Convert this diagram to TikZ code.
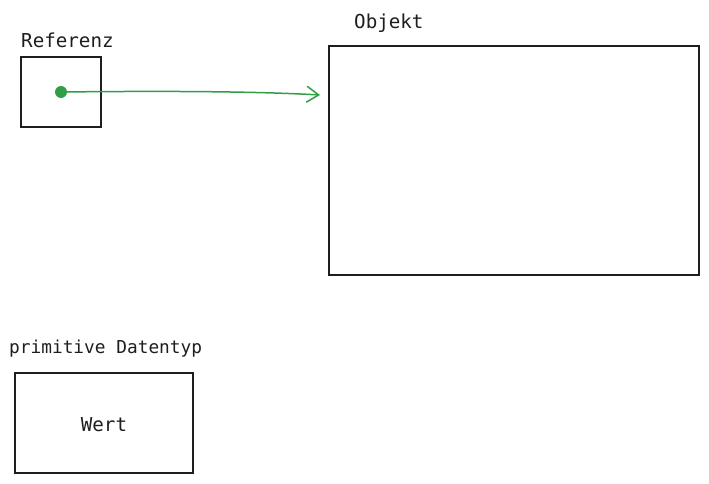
\documentclass[tikz,border=0pt]{standalone}
\usepackage{fontspec}
\setmonofont{DejaVu Sans Mono}
\usetikzlibrary{arrows.meta}
\definecolor{ink}{HTML}{1E1E1E}
\definecolor{pfeilgruen}{HTML}{2F9E44}
\begin{document}
\begin{tikzpicture}[x=1pt,y=-1pt,
    kasten/.style={draw=ink,line width=1.6pt,inner sep=0pt},
    beschriftung/.style={anchor=west,inner sep=0pt,text=ink,
        font=\ttfamily\fontsize{19.2}{22}\selectfont},
    zeiger/.style={draw=pfeilgruen,line width=1.5pt,
        -{Straight Barb[length=12pt,width=16pt,line width=1.5pt]}}
]
  \useasboundingbox (0,0) rectangle (709,484);
  % Referenz
  \node[kasten,minimum width=80pt,minimum height=70pt] (referenz) at (61,92) {};
  \node[beschriftung] (referenzText) at (21,40.5) {Referenz};
  \fill[pfeilgruen] (referenz.center) circle (6pt);
  % Objekt
  \node[kasten,minimum width=370pt,minimum height=229pt] (objekt) at (514,160.5) {};
  \node[beschriftung] (objektText) at (354,23.5) {Objekt};
  \coordinate (ziel) at (320,95);
  \draw[zeiger] (referenz.center) .. controls (150,91) and (250,91) .. (ziel);
  % primitiver Datentyp
  \node[kasten,minimum width=178pt,minimum height=100pt] (wert) at (104,423) {};
  \node[beschriftung,anchor=center] (wertText) at (104,425) {Wert};
  \node[beschriftung,font=\ttfamily\fontsize{17.8}{21}\selectfont] (datentypText) at (9,348.5) {primitive Datentyp};
\end{tikzpicture}
\end{document}
